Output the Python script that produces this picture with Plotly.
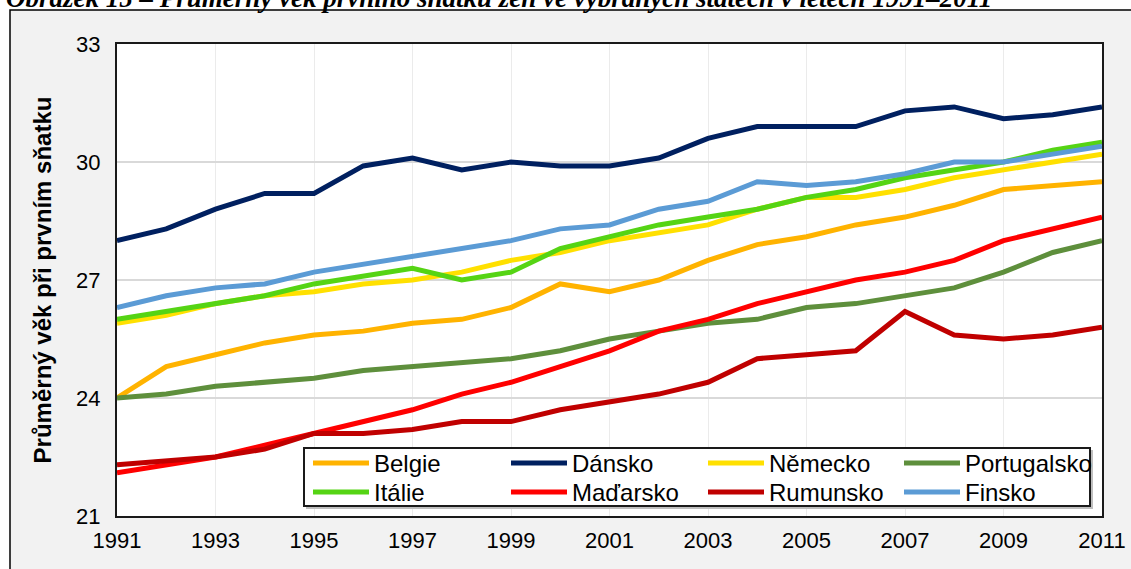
import plotly.graph_objects as go

years = list(range(1991, 2012))

belgie =      [24.0, 24.8, 25.1, 25.4, 25.6, 25.7, 25.9, 26.0, 26.3, 26.9, 26.7, 27.0, 27.5, 27.9, 28.1, 28.4, 28.6, 28.9, 29.3, 29.4, 29.5]
dansko =      [28.0, 28.3, 28.8, 29.2, 29.2, 29.9, 30.1, 29.8, 30.0, 29.9, 29.9, 30.1, 30.6, 30.9, 30.9, 30.9, 31.3, 31.4, 31.1, 31.2, 31.4]
nemecko =     [25.9, 26.1, 26.4, 26.6, 26.7, 26.9, 27.0, 27.2, 27.5, 27.7, 28.0, 28.2, 28.4, 28.8, 29.1, 29.1, 29.3, 29.6, 29.8, 30.0, 30.2]
portugalsko = [24.0, 24.1, 24.3, 24.4, 24.5, 24.7, 24.8, 24.9, 25.0, 25.2, 25.5, 25.7, 25.9, 26.0, 26.3, 26.4, 26.6, 26.8, 27.2, 27.7, 28.0]
italie =      [26.0, 26.2, 26.4, 26.6, 26.9, 27.1, 27.3, 27.0, 27.2, 27.8, 28.1, 28.4, 28.6, 28.8, 29.1, 29.3, 29.6, 29.8, 30.0, 30.3, 30.5]
madarsko =    [22.1, 22.3, 22.5, 22.8, 23.1, 23.4, 23.7, 24.1, 24.4, 24.8, 25.2, 25.7, 26.0, 26.4, 26.7, 27.0, 27.2, 27.5, 28.0, 28.3, 28.6]
rumunsko =    [22.3, 22.4, 22.5, 22.7, 23.1, 23.1, 23.2, 23.4, 23.4, 23.7, 23.9, 24.1, 24.4, 25.0, 25.1, 25.2, 26.2, 25.6, 25.5, 25.6, 25.8]
finsko =      [26.3, 26.6, 26.8, 26.9, 27.2, 27.4, 27.6, 27.8, 28.0, 28.3, 28.4, 28.8, 29.0, 29.5, 29.4, 29.5, 29.7, 30.0, 30.0, 30.2, 30.4]

series_names = ["Belgie", "Dánsko", "Německo", "Portugalsko", "Itálie", "Maďarsko", "Rumunsko", "Finsko"]
series_values = [belgie, dansko, nemecko, portugalsko, italie, madarsko, rumunsko, finsko]
series_colors = ["#FFB300", "#002060", "#FFE000", "#5E8F3C", "#55D414", "#FF0000", "#C00000", "#5B9BD5"]

x_ticks = list(range(1991, 2012, 2))
y_ticks = [21, 24, 27, 30, 33]

title_text = "Obrázek 15 – Průměrný věk prvního sňatku žen ve vybraných státech v letech 1991–2011"
y_title = "Průměrný věk při prvním sňatku"

FONT = "Liberation Sans, Arial, sans-serif"

# plot area in px: x 117..1102, y 44..516
L, R, T, B = 117, 29, 44, 53
W = 1131 - L - R
H = 569 - T - B


def px_x(p):
    return (p - L) / W


def px_y(p):
    return (569 - B - p) / H


# legend laid out as 4 columns x 2 rows (Excel style), one legend per entry
legend_col_px = [308, 506, 703, 899]
legend_row_px = [441, 470]

fig = go.Figure()
layout_legends = {}
for i, (name, vals, col) in enumerate(zip(series_names, series_values, series_colors)):
    lid = "legend" if i == 0 else "legend%d" % (i + 1)
    fig.add_trace(go.Scatter(x=years, y=vals, mode="lines", name=name,
                             legend=lid, line=dict(color=col, width=5)))
    layout_legends[lid] = dict(
        orientation="v", xanchor="left", yanchor="top",
        x=px_x(legend_col_px[i % 4]), y=px_y(legend_row_px[i // 4]),
        bgcolor="rgba(0,0,0,0)", borderwidth=0,
        font=dict(family=FONT, size=24, color="#000000"),
        itemwidth=56,
    )

shapes = [
    dict(type="rect", xref="paper", yref="paper", layer="below",
         x0=px_x(10), x1=px_x(1160), y0=px_y(600), y1=px_y(10),
         fillcolor="#F2F2F2", line=dict(color="#000000", width=1.5)),
    dict(type="rect", xref="paper", yref="paper", layer="below",
         x0=0, x1=1, y0=0, y1=1, fillcolor="#FFFFFF", line=dict(width=0)),
    # legend box shadow + box
    dict(type="rect", xref="paper", yref="paper", layer="above",
         x0=px_x(306), x1=px_x(1093), y0=px_y(509), y1=px_y(450),
         fillcolor="#BFBFBF", line=dict(width=0)),
    dict(type="rect", xref="paper", yref="paper", layer="above",
         x0=px_x(304), x1=px_x(1090), y0=px_y(506), y1=px_y(448),
         fillcolor="#FFFFFF", line=dict(color="#1A1A1A", width=2)),
]

fig.update_layout(
    width=1131, height=569,
    margin=dict(l=L, r=R, t=T, b=B, autoexpand=False),
    paper_bgcolor="#FFFFFF",
    plot_bgcolor="#FFFFFF",
    font=dict(family=FONT, size=22, color="#000000"),
    shapes=shapes,
    showlegend=True,
    annotations=[
        dict(text=title_text, xref="paper", yref="paper",
             x=px_x(4), y=px_y(-2), xanchor="left", yanchor="middle",
             showarrow=False,
             font=dict(family="Liberation Serif, Times New Roman, serif", size=27,
                       color="#000000", weight="bold", style="italic")),
    ],
    **layout_legends,
)

fig.update_xaxes(
    range=[1991, 2011], tickvals=x_ticks, ticktext=[str(v) for v in x_ticks],
    showgrid=True, gridcolor="#EBEBEB", gridwidth=1,
    showline=True, linecolor="#1A1A1A", linewidth=2, mirror=True,
    ticks="", ticklabelstandoff=4, zeroline=False, automargin=False,
    tickfont=dict(family=FONT, size=22),
)
fig.update_yaxes(
    range=[21, 33], tickvals=y_ticks, ticktext=[str(v) for v in y_ticks],
    showgrid=True, gridcolor="#D9D9D9", gridwidth=1.5,
    showline=True, linecolor="#1A1A1A", linewidth=2, mirror=True,
    ticks="", ticklabelstandoff=10, zeroline=False, automargin=False,
    tickfont=dict(family=FONT, size=22),
    title=dict(text="<b>" + y_title + "</b>", standoff=18,
               font=dict(family=FONT, size=24)),
)

fig.write_html("out.html",
               config={"displayModeBar": False},
               post_script="document.body.style.margin='0px';document.body.style.overflow='hidden';")
